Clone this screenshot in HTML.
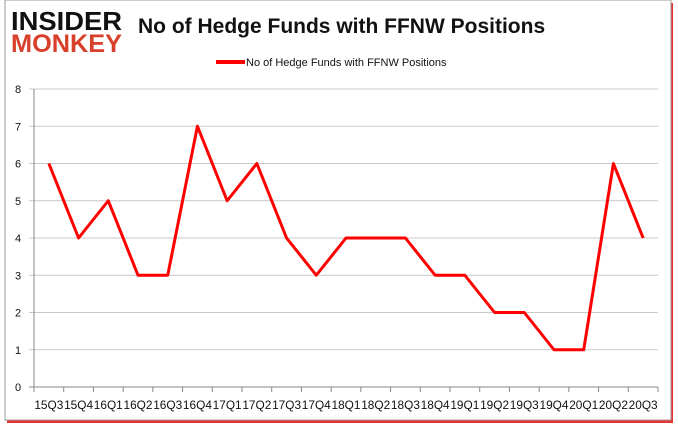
<!DOCTYPE html>
<html><head><meta charset="utf-8"><style>
body{margin:0;width:678px;height:431px;background:#fff;overflow:hidden;font-family:"Liberation Sans",sans-serif}
</style></head><body>
<svg width="678" height="431">
<rect x="7" y="3" width="666" height="420" fill="#e00000" opacity="0.8"/>
<rect x="5" y="0" width="666" height="420" fill="#fff" stroke="#999" stroke-width="1"/>
<text x="11" y="30" font-size="26" font-weight="bold" fill="#111" textLength="111" lengthAdjust="spacingAndGlyphs">INSIDER</text>
<text x="11" y="52" font-size="25" font-weight="bold" fill="#d9402b" textLength="111" lengthAdjust="spacingAndGlyphs">MONKEY</text>
<text x="138" y="33" font-size="21" font-weight="bold" fill="#111">No of Hedge Funds with FFNW Positions</text>
<line x1="216" y1="62" x2="245" y2="62" stroke="#f00" stroke-width="4"/>
<text x="246" y="66" font-size="11" fill="#111">No of Hedge Funds with FFNW Positions</text>
<g id="grid"></g><g id="xl"></g>
<polyline id="series" fill="none" stroke="#f00" stroke-width="3" stroke-linejoin="round"/>
</svg>
<script>
const categories=["15Q3","15Q4","16Q1","16Q2","16Q3","16Q4","17Q1","17Q2","17Q3","17Q4","18Q1","18Q2","18Q3","18Q4","19Q1","19Q2","19Q3","19Q4","20Q1","20Q2","20Q3"];
const values=[6,4,5,3,3,7,5,6,4,3,4,4,4,3,3,2,2,1,1,6,4];
const yTicks=[0,1,2,3,4,5,6,7,8];
const NS="http://www.w3.org/2000/svg";
const L=34,R=658,T=89,B=387,band=(R-L)/categories.length;
const y=v=>B-(v/8)*(B-T);
const x=i=>L+band*(i+0.5);
const g=document.getElementById('grid'),xl=document.getElementById('xl');
function mk(t,a,p){const e=document.createElementNS(NS,t);for(const k in a)e.setAttribute(k,a[k]);p.appendChild(e);return e;}
yTicks.forEach(v=>{
 const ln=mk('line',{x1:L-5,x2:R,y1:y(v),y2:y(v),stroke:v===0?'#888':'#c8c8c8'},g);
 
 
 const t=mk('text',{x:18,y:y(v)+4,'font-size':11,fill:'#111','text-anchor':'middle'},g);
 t.textContent=v;
 
 
});
mk('line',{x1:L,x2:L,y1:T,y2:B,stroke:'#888'},g);
categories.forEach((c,i)=>{
 const tk=mk('line',{x1:L+band*i,x2:L+band*i,y1:B,y2:B+5,stroke:'#888'},g);
 
 
 const t=mk('text',{x:x(i),y:409,'font-size':12,fill:'#111','text-anchor':'middle',textLength:29,lengthAdjust:'spacingAndGlyphs'},xl);
 t.textContent=c;
 
 
});
mk('line',{x1:R,x2:R,y1:B,y2:B+5,stroke:'#888'},g);
document.getElementById('series').setAttribute('points',values.map((v,i)=>x(i)+','+y(v)).join(' '));
</script>
</body></html>
